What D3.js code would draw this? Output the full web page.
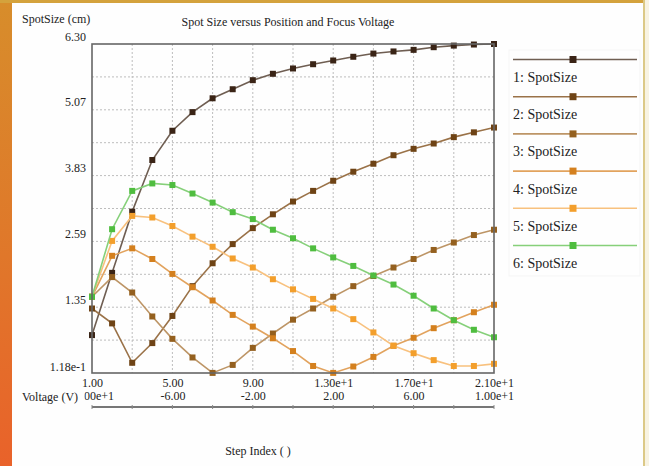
<!DOCTYPE html>
<html>
<head>
<meta charset="utf-8">
<script src="https://cdn.jsdelivr.net/npm/d3@7"></script>
<style>
  html, body { margin: 0; padding: 0; background: #fff; }
  svg { display: block; }
  text { font-family: "Liberation Serif", "Times New Roman", serif; fill: #222; }
</style>
</head>
<body>
<svg id="chart" width="649" height="466"></svg>
<script>
// Step index along the beam path
const steps = d3.range(1, 22);

// Spot size (cm) per step, one series per focus-voltage setting
const spot1 = [0.83, 2.00, 3.15, 4.12, 4.67, 5.02, 5.28, 5.45, 5.62, 5.74, 5.84, 5.92, 5.99, 6.06, 6.12, 6.16, 6.19, 6.24, 6.27, 6.29, 6.30];
const spot2 = [1.33, 1.05, 0.31, 0.68, 1.19, 1.75, 2.18, 2.54, 2.84, 3.10, 3.34, 3.54, 3.73, 3.90, 4.05, 4.21, 4.33, 4.43, 4.55, 4.64, 4.73];
const spot3 = [1.55, 1.92, 1.63, 1.18, 0.76, 0.41, 0.12, 0.27, 0.59, 0.86, 1.12, 1.33, 1.55, 1.75, 1.94, 2.10, 2.26, 2.43, 2.57, 2.71, 2.81];
const spot4 = [1.55, 2.32, 2.46, 2.26, 1.98, 1.73, 1.48, 1.21, 0.99, 0.77, 0.53, 0.25, 0.12, 0.24, 0.42, 0.63, 0.78, 0.96, 1.11, 1.26, 1.40];
const spot5 = [1.55, 2.60, 3.07, 3.04, 2.88, 2.68, 2.49, 2.27, 2.10, 1.88, 1.69, 1.51, 1.33, 1.13, 0.88, 0.63, 0.49, 0.36, 0.25, 0.25, 0.29];
const spot6 = [1.55, 2.82, 3.54, 3.68, 3.65, 3.49, 3.32, 3.14, 3.01, 2.81, 2.65, 2.46, 2.29, 2.13, 1.95, 1.78, 1.57, 1.33, 1.11, 0.93, 0.79];

const seriesNames = ["1: SpotSize", "2: SpotSize", "3: SpotSize", "4: SpotSize", "5: SpotSize", "6: SpotSize"];

// Axis tick labels
const yTickValues = [0.118, 1.35, 2.59, 3.83, 5.07, 6.30];
const yTickLabels = ["1.18e-1", "1.35", "2.59", "3.83", "5.07", "6.30"];
const xTickValues = [1, 5, 9, 13, 17, 21];
const xTickLabels = ["1.00", "5.00", "9.00", "1.30e+1", "1.70e+1", "2.10e+1"];
const voltageTickLabels = ["-1.00e+1", "-6.00", "-2.00", "2.00", "6.00", "1.00e+1"];

const lineColors   = ["#6f5e52", "#9a7248", "#bd9566", "#e2a35e", "#f8c17e", "#86d07a"];
const markerColors = ["#3a2416", "#6e4315", "#94601f", "#d4801e", "#f39f2c", "#4fbd3f"];

const allSeries = [spot1, spot2, spot3, spot4, spot5, spot6].map((vals, i) => ({
  name: seriesNames[i],
  line: lineColors[i],
  marker: markerColors[i],
  points: steps.map((s, j) => ({ x: s, y: vals[j] }))
}));

const svg = d3.select("#chart");
const W = 649, H = 466;
const FS = 12;

// Frame: orange strip on the left, gold band on top, thin rule on the right
const defs = svg.append("defs");
const grad = defs.append("linearGradient").attr("id", "leftStrip")
  .attr("x1", 0).attr("y1", 0).attr("x2", 0).attr("y2", 1);
grad.append("stop").attr("offset", "0%").attr("stop-color", "#d78d2b");
grad.append("stop").attr("offset", "55%").attr("stop-color", "#e0772a");
grad.append("stop").attr("offset", "100%").attr("stop-color", "#e9622a");

svg.append("rect").attr("width", W).attr("height", H).attr("fill", "#fefefe");
svg.append("rect").attr("x", 0).attr("y", 0).attr("width", 12).attr("height", H).attr("fill", "url(#leftStrip)");
svg.append("rect").attr("x", 0).attr("y", 0).attr("width", W).attr("height", 3).attr("fill", "#d4a23c");
svg.append("rect").attr("x", 643).attr("y", 0).attr("width", 2).attr("height", H).attr("fill", "#dcc987");
svg.append("rect").attr("x", 645).attr("y", 0).attr("width", 4).attr("height", H).attr("fill", "#f8f3e2");

// Plot area
const plot = { left: 92, right: 494, top: 44, bottom: 373 };
const x = d3.scaleLinear().domain([1, 21]).range([plot.left, plot.right]);
const y = d3.scaleLinear().domain([0.118, 6.30]).range([plot.bottom, plot.top]);

// Dotted grid: every 2 steps horizontally, half-label spacing vertically
const gridX = d3.range(3, 21, 2);
const gridY = d3.range(1, 10).map(k => 0.118 + k * (6.30 - 0.118) / 10);
const grid = svg.append("g").attr("stroke", "#bdbdbd").attr("stroke-width", 1)
  .attr("stroke-dasharray", "2,2");
grid.selectAll("line.gx").data(gridX).join("line").attr("class", "gx")
  .attr("x1", d => x(d)).attr("x2", d => x(d))
  .attr("y1", plot.top).attr("y2", plot.bottom);
grid.selectAll("line.gy").data(gridY).join("line").attr("class", "gy")
  .attr("x1", plot.left).attr("x2", plot.right)
  .attr("y1", d => y(d)).attr("y2", d => y(d));

// Series lines and square markers
const lineGen = d3.line().x(d => x(d.x)).y(d => y(d.y));
const seriesG = svg.append("g");
allSeries.forEach(s => {
  const g = seriesG.append("g");
  g.append("path").datum(s.points).attr("d", lineGen)
    .attr("fill", "none").attr("stroke", s.line).attr("stroke-width", 1.6);
  g.selectAll("rect").data(s.points).join("rect")
    .attr("x", d => x(d.x) - 3).attr("y", d => y(d.y) - 3)
    .attr("width", 6).attr("height", 6).attr("fill", s.marker);
});

// Plot border
svg.append("rect").attr("x", plot.left).attr("y", plot.top)
  .attr("width", plot.right - plot.left).attr("height", plot.bottom - plot.top)
  .attr("fill", "none").attr("stroke", "#666").attr("stroke-width", 1.6);

// Y axis labels (right-aligned, sitting just above their gridlines)
const yAxis = d3.axisLeft(y).tickValues(yTickValues)
  .tickFormat((d, i) => yTickLabels[i]).tickSize(0).tickPadding(6);
const yG = svg.append("g").attr("transform", `translate(${plot.left},0)`).call(yAxis);
yG.select(".domain").remove();
yG.selectAll("text").attr("font-size", FS).attr("dy", "-0.3em")
  .attr("font-family", "Liberation Serif").attr("fill", "#333");
yG.selectAll(".tick").filter(d => d === 0.118).select("text").attr("dy", "-0.2em");

// Step index labels
const xAxis = d3.axisBottom(x).tickValues(xTickValues)
  .tickFormat((d, i) => xTickLabels[i]).tickSize(0).tickPadding(5);
const xG = svg.append("g").attr("transform", `translate(0,${plot.bottom})`).call(xAxis);
xG.select(".domain").remove();
xG.selectAll("text").attr("font-size", FS).attr("font-family", "Liberation Serif").attr("fill", "#333");

// Secondary voltage scale under the step labels; the first label runs
// underneath the "Voltage (V)" caption, so only its tail shows
defs.append("clipPath").attr("id", "voltClip")
  .append("rect").attr("x", 84.5).attr("y", 380).attr("width", 440).attr("height", 30);
const vAxis = d3.axisBottom(x).tickValues(xTickValues)
  .tickFormat((d, i) => voltageTickLabels[i]).tickSize(0).tickPadding(0);
const vG = svg.append("g").attr("clip-path", "url(#voltClip)")
  .append("g").attr("transform", `translate(0,391)`).call(vAxis);
vG.select(".domain").remove();
vG.selectAll("text").attr("font-size", FS).attr("font-family", "Liberation Serif").attr("fill", "#333");

// Voltage scale rule with small ticks
const ruleY = 407;
svg.append("line").attr("x1", plot.left).attr("x2", plot.right)
  .attr("y1", ruleY).attr("y2", ruleY).attr("stroke", "#777").attr("stroke-width", 2);
svg.append("g").selectAll("line").data(d3.range(1, 22, 2)).join("line")
  .attr("x1", d => x(d)).attr("x2", d => x(d))
  .attr("y1", ruleY - 2).attr("y2", ruleY + 2)
  .attr("stroke", "#888").attr("stroke-width", 1);

svg.append("text").attr("x", 22).attr("y", 401).attr("font-size", FS).attr("fill", "#333")
  .text("Voltage (V)");

// Titles
svg.append("text").attr("x", 288).attr("y", 26).attr("text-anchor", "middle")
  .attr("font-size", FS).attr("fill", "#333")
  .text("Spot Size versus Position and Focus Voltage");
svg.append("text").attr("x", 22).attr("y", 23).attr("font-size", FS).attr("fill", "#333")
  .text("SpotSize (cm)");
svg.append("text").attr("x", 258).attr("y", 455).attr("text-anchor", "middle")
  .attr("font-size", FS).attr("fill", "#333")
  .text("Step Index ( )");

// Legend
const legend = svg.append("g");
legend.append("rect").attr("x", 509).attr("y", 50).attr("width", 131).attr("height", 226)
  .attr("fill", "none").attr("stroke", "#f5f5f5").attr("stroke-width", 1);
const legY0 = 59.5, legStep = 37.2;
allSeries.forEach((s, i) => {
  const ly = legY0 + i * legStep;
  legend.append("line").attr("x1", 513).attr("x2", 637).attr("y1", ly).attr("y2", ly)
    .attr("stroke", s.line).attr("stroke-width", 1.6);
  legend.append("rect").attr("x", 573 - 3.5).attr("y", ly - 3.5).attr("width", 7).attr("height", 7)
    .attr("fill", s.marker);
  legend.append("text").attr("x", 513).attr("y", ly + 22.5).attr("font-size", 14)
    .attr("fill", "#333").text(s.name);
});
</script>
</body>
</html>
